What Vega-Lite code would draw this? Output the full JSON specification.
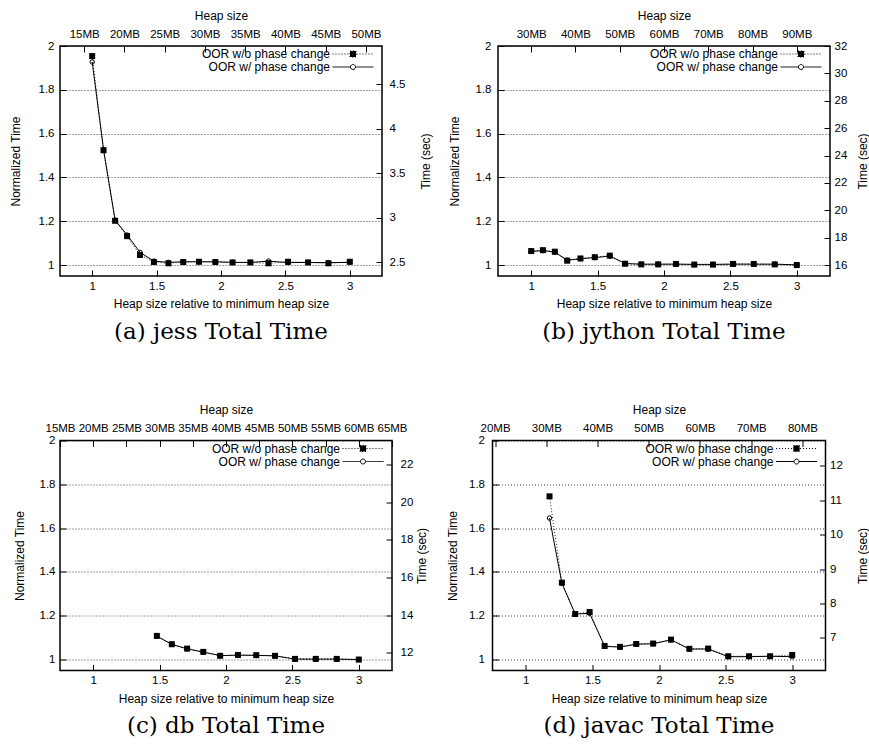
{
  "$schema": "https://vega.github.io/schema/vega-lite/v6.json",
  "padding": {"left": 8, "top": 8, "right": 0, "bottom": 0},
  "spacing": 57.5,
  "resolve": {"scale": {"shape": "independent", "fill": "independent", "strokeDash": "independent"}, "legend": {"shape": "independent", "fill": "independent", "strokeDash": "independent"}},
  "datasets": {
    "meta": [
      {"bench": "jess", "minHeap": 16, "baseTime": 2.466},
      {"bench": "jython", "minHeap": 30, "baseTime": 16},
      {"bench": "db", "minHeap": 20, "baseTime": 11.64},
      {"bench": "javac", "minHeap": 26, "baseTime": 6.37}
    ],
    "perf": [
      {"bench":"jess","series":"wo","rel":1,"norm":1.954},
      {"bench":"jess","series":"wo","rel":1.088,"norm":1.524},
      {"bench":"jess","series":"wo","rel":1.178,"norm":1.202},
      {"bench":"jess","series":"wo","rel":1.271,"norm":1.132},
      {"bench":"jess","series":"wo","rel":1.371,"norm":1.046},
      {"bench":"jess","series":"wo","rel":1.479,"norm":1.014},
      {"bench":"jess","series":"wo","rel":1.592,"norm":1.008},
      {"bench":"jess","series":"wo","rel":1.707,"norm":1.014},
      {"bench":"jess","series":"wo","rel":1.829,"norm":1.015},
      {"bench":"jess","series":"wo","rel":1.956,"norm":1.014},
      {"bench":"jess","series":"wo","rel":2.09,"norm":1.012},
      {"bench":"jess","series":"wo","rel":2.228,"norm":1.012},
      {"bench":"jess","series":"wo","rel":2.369,"norm":1.008},
      {"bench":"jess","series":"wo","rel":2.52,"norm":1.015},
      {"bench":"jess","series":"wo","rel":2.676,"norm":1.012},
      {"bench":"jess","series":"wo","rel":2.834,"norm":1.008},
      {"bench":"jess","series":"wo","rel":3,"norm":1.015},
      {"bench":"jess","series":"w","rel":1,"norm":1.927},
      {"bench":"jess","series":"w","rel":1.088,"norm":1.527},
      {"bench":"jess","series":"w","rel":1.178,"norm":1.205},
      {"bench":"jess","series":"w","rel":1.271,"norm":1.137},
      {"bench":"jess","series":"w","rel":1.371,"norm":1.058},
      {"bench":"jess","series":"w","rel":1.479,"norm":1.018},
      {"bench":"jess","series":"w","rel":1.592,"norm":1.012},
      {"bench":"jess","series":"w","rel":1.707,"norm":1.015},
      {"bench":"jess","series":"w","rel":1.829,"norm":1.015},
      {"bench":"jess","series":"w","rel":1.956,"norm":1.015},
      {"bench":"jess","series":"w","rel":2.09,"norm":1.012},
      {"bench":"jess","series":"w","rel":2.228,"norm":1.012},
      {"bench":"jess","series":"w","rel":2.369,"norm":1.018},
      {"bench":"jess","series":"w","rel":2.52,"norm":1.011},
      {"bench":"jess","series":"w","rel":2.676,"norm":1.012},
      {"bench":"jess","series":"w","rel":2.834,"norm":1.011},
      {"bench":"jess","series":"w","rel":3,"norm":1.012},
      {"bench":"jython","series":"wo","rel":1,"norm":1.064},
      {"bench":"jython","series":"wo","rel":1.088,"norm":1.068},
      {"bench":"jython","series":"wo","rel":1.178,"norm":1.061},
      {"bench":"jython","series":"wo","rel":1.271,"norm":1.02},
      {"bench":"jython","series":"wo","rel":1.371,"norm":1.03},
      {"bench":"jython","series":"wo","rel":1.479,"norm":1.036},
      {"bench":"jython","series":"wo","rel":1.592,"norm":1.043},
      {"bench":"jython","series":"wo","rel":1.707,"norm":1.006},
      {"bench":"jython","series":"wo","rel":1.829,"norm":1.003},
      {"bench":"jython","series":"wo","rel":1.956,"norm":1.003},
      {"bench":"jython","series":"wo","rel":2.09,"norm":1.005},
      {"bench":"jython","series":"wo","rel":2.228,"norm":1.002},
      {"bench":"jython","series":"wo","rel":2.369,"norm":1.002},
      {"bench":"jython","series":"wo","rel":2.52,"norm":1.005},
      {"bench":"jython","series":"wo","rel":2.676,"norm":1.005},
      {"bench":"jython","series":"wo","rel":2.834,"norm":1.003},
      {"bench":"jython","series":"wo","rel":3,"norm":1.0},
      {"bench":"jython","series":"w","rel":1,"norm":1.062},
      {"bench":"jython","series":"w","rel":1.088,"norm":1.066},
      {"bench":"jython","series":"w","rel":1.178,"norm":1.059},
      {"bench":"jython","series":"w","rel":1.271,"norm":1.022},
      {"bench":"jython","series":"w","rel":1.371,"norm":1.029},
      {"bench":"jython","series":"w","rel":1.479,"norm":1.034},
      {"bench":"jython","series":"w","rel":1.592,"norm":1.041},
      {"bench":"jython","series":"w","rel":1.707,"norm":1.007},
      {"bench":"jython","series":"w","rel":1.829,"norm":1.004},
      {"bench":"jython","series":"w","rel":1.956,"norm":1.004},
      {"bench":"jython","series":"w","rel":2.09,"norm":1.004},
      {"bench":"jython","series":"w","rel":2.228,"norm":1.003},
      {"bench":"jython","series":"w","rel":2.369,"norm":1.003},
      {"bench":"jython","series":"w","rel":2.52,"norm":1.004},
      {"bench":"jython","series":"w","rel":2.676,"norm":1.004},
      {"bench":"jython","series":"w","rel":2.834,"norm":1.004},
      {"bench":"jython","series":"w","rel":3,"norm":1.001},
      {"bench":"db","series":"wo","rel":1.479,"norm":1.108},
      {"bench":"db","series":"wo","rel":1.592,"norm":1.07},
      {"bench":"db","series":"wo","rel":1.707,"norm":1.05},
      {"bench":"db","series":"wo","rel":1.829,"norm":1.035},
      {"bench":"db","series":"wo","rel":1.956,"norm":1.017},
      {"bench":"db","series":"wo","rel":2.09,"norm":1.021},
      {"bench":"db","series":"wo","rel":2.228,"norm":1.02},
      {"bench":"db","series":"wo","rel":2.369,"norm":1.017},
      {"bench":"db","series":"wo","rel":2.52,"norm":1.003},
      {"bench":"db","series":"wo","rel":2.676,"norm":1.003},
      {"bench":"db","series":"wo","rel":2.834,"norm":1.003},
      {"bench":"db","series":"wo","rel":3,"norm":1.0},
      {"bench":"db","series":"w","rel":1.479,"norm":1.107},
      {"bench":"db","series":"w","rel":1.592,"norm":1.069},
      {"bench":"db","series":"w","rel":1.707,"norm":1.049},
      {"bench":"db","series":"w","rel":1.829,"norm":1.034},
      {"bench":"db","series":"w","rel":1.956,"norm":1.018},
      {"bench":"db","series":"w","rel":2.09,"norm":1.02},
      {"bench":"db","series":"w","rel":2.228,"norm":1.019},
      {"bench":"db","series":"w","rel":2.369,"norm":1.017},
      {"bench":"db","series":"w","rel":2.52,"norm":1.002},
      {"bench":"db","series":"w","rel":2.676,"norm":1.002},
      {"bench":"db","series":"w","rel":2.834,"norm":1.002},
      {"bench":"db","series":"w","rel":3,"norm":1.0},
      {"bench":"javac","series":"wo","rel":1.178,"norm":1.745},
      {"bench":"javac","series":"wo","rel":1.271,"norm":1.351},
      {"bench":"javac","series":"wo","rel":1.371,"norm":1.208},
      {"bench":"javac","series":"wo","rel":1.479,"norm":1.217},
      {"bench":"javac","series":"wo","rel":1.592,"norm":1.062},
      {"bench":"javac","series":"wo","rel":1.707,"norm":1.058},
      {"bench":"javac","series":"wo","rel":1.829,"norm":1.071},
      {"bench":"javac","series":"wo","rel":1.956,"norm":1.073},
      {"bench":"javac","series":"wo","rel":2.09,"norm":1.091},
      {"bench":"javac","series":"wo","rel":2.228,"norm":1.049},
      {"bench":"javac","series":"wo","rel":2.369,"norm":1.05},
      {"bench":"javac","series":"wo","rel":2.52,"norm":1.015},
      {"bench":"javac","series":"wo","rel":2.676,"norm":1.015},
      {"bench":"javac","series":"wo","rel":2.834,"norm":1.015},
      {"bench":"javac","series":"wo","rel":3,"norm":1.021},
      {"bench":"javac","series":"w","rel":1.178,"norm":1.646},
      {"bench":"javac","series":"w","rel":1.271,"norm":1.348},
      {"bench":"javac","series":"w","rel":1.371,"norm":1.208},
      {"bench":"javac","series":"w","rel":1.479,"norm":1.211},
      {"bench":"javac","series":"w","rel":1.592,"norm":1.06},
      {"bench":"javac","series":"w","rel":1.707,"norm":1.057},
      {"bench":"javac","series":"w","rel":1.829,"norm":1.07},
      {"bench":"javac","series":"w","rel":1.956,"norm":1.072},
      {"bench":"javac","series":"w","rel":2.09,"norm":1.09},
      {"bench":"javac","series":"w","rel":2.228,"norm":1.048},
      {"bench":"javac","series":"w","rel":2.369,"norm":1.048},
      {"bench":"javac","series":"w","rel":2.52,"norm":1.013},
      {"bench":"javac","series":"w","rel":2.676,"norm":1.013},
      {"bench":"javac","series":"w","rel":2.834,"norm":1.015},
      {"bench":"javac","series":"w","rel":3,"norm":1.013}
    ]
  },
  "vconcat": [
    {
      "spacing": 14,
      "resolve": {"scale": {"shape": "independent", "fill": "independent", "strokeDash": "independent"}, "legend": {"shape": "independent", "fill": "independent", "strokeDash": "independent"}},
      "hconcat": [
        {
          "width": 322, "height": 230,
          "title": {"text": "(a) jess Total Time"},
          "layer": [
            {
              "data": {"name": "perf"},
              "transform": [{"filter": "datum.bench == 'jess'"}],
              "encoding": {
                "x": {"field": "rel", "type": "quantitative", "scale": {"domain": [0.75, 3.25], "nice": false, "zero": false},
                      "axis": {"orient": "bottom", "title": "Heap size relative to minimum heap size", "values": [1, 1.5, 2, 2.5, 3], "labelExpr": "'' + datum.value", "grid": false}},
                "y": {"field": "norm", "type": "quantitative", "scale": {"domain": [0.95, 2], "nice": false, "zero": false},
                      "axis": {"orient": "left", "title": "Normalized Time", "values": [1, 1.2, 1.4, 1.6, 1.8, 2], "labelExpr": "'' + datum.value", "grid": true, "labelPadding": 12, "titlePadding": 16}}
              },
              "layer": [
                {"transform": [{"filter": "datum.series == 'wo'"}], "mark": {"type": "line", "color": "#222", "strokeWidth": 1, "strokeDash": [1, 2]}},
                {"transform": [{"filter": "datum.series == 'w'"}], "mark": {"type": "line", "color": "black", "strokeWidth": 1}},
                {"transform": [{"filter": "datum.series == 'wo'"}], "mark": {"type": "square", "color": "black", "filled": true, "size": 36, "opacity": 1}},
                {"transform": [{"filter": "datum.series == 'w'"}], "mark": {"type": "point", "shape": "circle", "color": "black", "filled": false, "size": 20, "strokeWidth": 1, "opacity": 1}},
                {"mark": {"type": "point", "opacity": 0, "color": "black", "strokeWidth": 1},
                 "encoding": {
                   "shape": {"field": "series", "type": "nominal", "scale": {"domain": ["wo", "w"], "range": ["M-8.2,0H8.2M-1.2,-1.2H1.2V1.2H-1.2Z", "M-8.2,0H-1M1,0H8.2M-1,0A1,1 0 1,0 1,0A1,1 0 1,0 -1,0"]},
                             "legend": {"title": null, "orient": "none", "legendX": 287, "legendY": 2, "labelAlign": "right", "labelOffset": -29, "symbolSize": 25, "symbolOpacity": 1, "symbolStrokeWidth": 1, "rowPadding": 1, "padding": 0, "labelFontSize": 12, "labelExpr": "datum.value == 'wo' ? 'OOR w/o phase change' : 'OOR w/ phase change'"}},
                   "fill": {"field": "series", "type": "nominal", "scale": {"domain": ["wo", "w"], "range": ["black", "white"]},
                             "legend": {"title": null, "orient": "none", "legendX": 287, "legendY": 2, "labelAlign": "right", "labelOffset": -29, "symbolSize": 25, "symbolOpacity": 1, "symbolStrokeWidth": 1, "rowPadding": 1, "padding": 0, "labelFontSize": 12, "labelExpr": "datum.value == 'wo' ? 'OOR w/o phase change' : 'OOR w/ phase change'"}},
                   "strokeDash": {"field": "series", "type": "nominal", "scale": {"domain": ["wo", "w"], "range": [[1, 2], [1, 0]]},
                             "legend": {"title": null, "orient": "none", "legendX": 287, "legendY": 2, "labelAlign": "right", "labelOffset": -29, "symbolSize": 25, "symbolOpacity": 1, "symbolStrokeWidth": 1, "rowPadding": 1, "padding": 0, "labelFontSize": 12, "labelExpr": "datum.value == 'wo' ? 'OOR w/o phase change' : 'OOR w/ phase change'"}}
                 }}
              ]
            },
            {
              "data": {"name": "meta"},
              "transform": [{"filter": "datum.bench == 'jess'"}],
              "mark": {"type": "point", "opacity": 0},
              "encoding": {
                "x": {"field": "minHeap", "type": "quantitative", "scale": {"domain": [12, 52], "nice": false, "zero": false},
                      "axis": {"orient": "top", "title": "Heap size", "values": [15, 20, 25, 30, 35, 40, 45, 50], "labelExpr": "datum.value + 'MB'", "grid": false}},
                "y": {"field": "baseTime", "type": "quantitative", "scale": {"domain": [2.3427, 4.932], "nice": false, "zero": false},
                      "axis": {"orient": "right", "title": "Time (sec)", "values": [2.5, 3, 3.5, 4, 4.5], "labelExpr": "'' + datum.value", "grid": false, "labelPadding": 13, "titlePadding": 16}}
              }
            }
          ],
          "resolve": {"scale": {"x": "independent", "y": "independent"}}
        },
        {
          "width": 332, "height": 230,
          "title": {"text": "(b) jython Total Time"},
          "layer": [
            {
              "data": {"name": "perf"},
              "transform": [{"filter": "datum.bench == 'jython'"}],
              "encoding": {
                "x": {"field": "rel", "type": "quantitative", "scale": {"domain": [0.75, 3.25], "nice": false, "zero": false},
                      "axis": {"orient": "bottom", "title": "Heap size relative to minimum heap size", "values": [1, 1.5, 2, 2.5, 3], "labelExpr": "'' + datum.value", "grid": false}},
                "y": {"field": "norm", "type": "quantitative", "scale": {"domain": [0.95, 2], "nice": false, "zero": false},
                      "axis": {"orient": "left", "title": "Normalized Time", "values": [1, 1.2, 1.4, 1.6, 1.8, 2], "labelExpr": "'' + datum.value", "grid": true, "labelPadding": 13, "titlePadding": 13.5}}
              },
              "layer": [
                {"transform": [{"filter": "datum.series == 'wo'"}], "mark": {"type": "line", "color": "#222", "strokeWidth": 1, "strokeDash": [1, 2]}},
                {"transform": [{"filter": "datum.series == 'w'"}], "mark": {"type": "line", "color": "black", "strokeWidth": 1}},
                {"transform": [{"filter": "datum.series == 'wo'"}], "mark": {"type": "square", "color": "black", "filled": true, "size": 36, "opacity": 1}},
                {"transform": [{"filter": "datum.series == 'w'"}], "mark": {"type": "point", "shape": "circle", "color": "black", "filled": false, "size": 20, "strokeWidth": 1, "opacity": 1}},
                {"mark": {"type": "point", "opacity": 0, "color": "black", "strokeWidth": 1},
                 "encoding": {
                   "shape": {"field": "series", "type": "nominal", "scale": {"domain": ["wo", "w"], "range": ["M-8.2,0H8.2M-1.2,-1.2H1.2V1.2H-1.2Z", "M-8.2,0H-1M1,0H8.2M-1,0A1,1 0 1,0 1,0A1,1 0 1,0 -1,0"]},
                             "legend": {"title": null, "orient": "none", "legendX": 297, "legendY": 2, "labelAlign": "right", "labelOffset": -29, "symbolSize": 25, "symbolOpacity": 1, "symbolStrokeWidth": 1, "rowPadding": 1, "padding": 0, "labelFontSize": 12, "labelExpr": "datum.value == 'wo' ? 'OOR w/o phase change' : 'OOR w/ phase change'"}},
                   "fill": {"field": "series", "type": "nominal", "scale": {"domain": ["wo", "w"], "range": ["black", "white"]},
                             "legend": {"title": null, "orient": "none", "legendX": 297, "legendY": 2, "labelAlign": "right", "labelOffset": -29, "symbolSize": 25, "symbolOpacity": 1, "symbolStrokeWidth": 1, "rowPadding": 1, "padding": 0, "labelFontSize": 12, "labelExpr": "datum.value == 'wo' ? 'OOR w/o phase change' : 'OOR w/ phase change'"}},
                   "strokeDash": {"field": "series", "type": "nominal", "scale": {"domain": ["wo", "w"], "range": [[1, 2], [1, 0]]},
                             "legend": {"title": null, "orient": "none", "legendX": 297, "legendY": 2, "labelAlign": "right", "labelOffset": -29, "symbolSize": 25, "symbolOpacity": 1, "symbolStrokeWidth": 1, "rowPadding": 1, "padding": 0, "labelFontSize": 12, "labelExpr": "datum.value == 'wo' ? 'OOR w/o phase change' : 'OOR w/ phase change'"}}
                 }}
              ]
            },
            {
              "data": {"name": "meta"},
              "transform": [{"filter": "datum.bench == 'jython'"}],
              "mark": {"type": "point", "opacity": 0},
              "encoding": {
                "x": {"field": "minHeap", "type": "quantitative", "scale": {"domain": [22.5, 97.5], "nice": false, "zero": false},
                      "axis": {"orient": "top", "title": "Heap size", "values": [30, 40, 50, 60, 70, 80, 90], "labelExpr": "datum.value + 'MB'", "grid": false}},
                "y": {"field": "baseTime", "type": "quantitative", "scale": {"domain": [15.2, 32], "nice": false, "zero": false},
                      "axis": {"orient": "right", "title": "Time (sec)", "values": [16, 18, 20, 22, 24, 26, 28, 30, 32], "labelExpr": "'' + datum.value", "grid": false, "labelPadding": 10, "titlePadding": 10.5}}
              }
            }
          ],
          "resolve": {"scale": {"x": "independent", "y": "independent"}}
        }
      ]
    },
    {
      "spacing": 16.5,
      "resolve": {"scale": {"shape": "independent", "fill": "independent", "strokeDash": "independent"}, "legend": {"shape": "independent", "fill": "independent", "strokeDash": "independent"}},
      "hconcat": [
        {
          "width": 332, "height": 230,
          "title": {"text": "(c) db Total Time"},
          "layer": [
            {
              "data": {"name": "perf"},
              "transform": [{"filter": "datum.bench == 'db'"}],
              "encoding": {
                "x": {"field": "rel", "type": "quantitative", "scale": {"domain": [0.75, 3.25], "nice": false, "zero": false},
                      "axis": {"orient": "bottom", "title": "Heap size relative to minimum heap size", "values": [1, 1.5, 2, 2.5, 3], "labelExpr": "'' + datum.value", "grid": false}},
                "y": {"field": "norm", "type": "quantitative", "scale": {"domain": [0.95, 2], "nice": false, "zero": false},
                      "axis": {"orient": "left", "title": "Normalized Time", "values": [1, 1.2, 1.4, 1.6, 1.8, 2], "labelExpr": "'' + datum.value", "grid": true, "labelPadding": 11, "titlePadding": 13}}
              },
              "layer": [
                {"transform": [{"filter": "datum.series == 'wo'"}], "mark": {"type": "line", "color": "#222", "strokeWidth": 1, "strokeDash": [1, 2]}},
                {"transform": [{"filter": "datum.series == 'w'"}], "mark": {"type": "line", "color": "black", "strokeWidth": 1}},
                {"transform": [{"filter": "datum.series == 'wo'"}], "mark": {"type": "square", "color": "black", "filled": true, "size": 36, "opacity": 1}},
                {"transform": [{"filter": "datum.series == 'w'"}], "mark": {"type": "point", "shape": "circle", "color": "black", "filled": false, "size": 20, "strokeWidth": 1, "opacity": 1}},
                {"mark": {"type": "point", "opacity": 0, "color": "black", "strokeWidth": 1},
                 "encoding": {
                   "shape": {"field": "series", "type": "nominal", "scale": {"domain": ["wo", "w"], "range": ["M-8.2,0H8.2M-1.2,-1.2H1.2V1.2H-1.2Z", "M-8.2,0H-1M1,0H8.2M-1,0A1,1 0 1,0 1,0A1,1 0 1,0 -1,0"]},
                             "legend": {"title": null, "orient": "none", "legendX": 297, "legendY": 2, "labelAlign": "right", "labelOffset": -29, "symbolSize": 25, "symbolOpacity": 1, "symbolStrokeWidth": 1, "rowPadding": 1, "padding": 0, "labelFontSize": 12, "labelExpr": "datum.value == 'wo' ? 'OOR w/o phase change' : 'OOR w/ phase change'"}},
                   "fill": {"field": "series", "type": "nominal", "scale": {"domain": ["wo", "w"], "range": ["black", "white"]},
                             "legend": {"title": null, "orient": "none", "legendX": 297, "legendY": 2, "labelAlign": "right", "labelOffset": -29, "symbolSize": 25, "symbolOpacity": 1, "symbolStrokeWidth": 1, "rowPadding": 1, "padding": 0, "labelFontSize": 12, "labelExpr": "datum.value == 'wo' ? 'OOR w/o phase change' : 'OOR w/ phase change'"}},
                   "strokeDash": {"field": "series", "type": "nominal", "scale": {"domain": ["wo", "w"], "range": [[1, 2], [1, 0]]},
                             "legend": {"title": null, "orient": "none", "legendX": 297, "legendY": 2, "labelAlign": "right", "labelOffset": -29, "symbolSize": 25, "symbolOpacity": 1, "symbolStrokeWidth": 1, "rowPadding": 1, "padding": 0, "labelFontSize": 12, "labelExpr": "datum.value == 'wo' ? 'OOR w/o phase change' : 'OOR w/ phase change'"}}
                 }}
              ]
            },
            {
              "data": {"name": "meta"},
              "transform": [{"filter": "datum.bench == 'db'"}],
              "mark": {"type": "point", "opacity": 0},
              "encoding": {
                "x": {"field": "minHeap", "type": "quantitative", "scale": {"domain": [15, 65], "nice": false, "zero": false},
                      "axis": {"orient": "top", "title": "Heap size", "values": [15, 20, 25, 30, 35, 40, 45, 50, 55, 60, 65], "labelExpr": "datum.value + 'MB'", "grid": false}},
                "y": {"field": "baseTime", "type": "quantitative", "scale": {"domain": [11.058, 23.28], "nice": false, "zero": false},
                      "axis": {"orient": "right", "title": "Time (sec)", "values": [12, 14, 16, 18, 20, 22], "labelExpr": "'' + datum.value", "grid": false, "labelPadding": 14, "titlePadding": 4}}
              }
            }
          ],
          "resolve": {"scale": {"x": "independent", "y": "independent"}}
        },
        {
          "width": 333, "height": 230,
          "title": {"text": "(d) javac Total Time"},
          "layer": [
            {
              "data": {"name": "perf"},
              "transform": [{"filter": "datum.bench == 'javac'"}],
              "encoding": {
                "x": {"field": "rel", "type": "quantitative", "scale": {"domain": [0.75, 3.25], "nice": false, "zero": false},
                      "axis": {"orient": "bottom", "title": "Heap size relative to minimum heap size", "values": [1, 1.5, 2, 2.5, 3], "labelExpr": "'' + datum.value", "grid": false}},
                "y": {"field": "norm", "type": "quantitative", "scale": {"domain": [0.95, 2], "nice": false, "zero": false},
                      "axis": {"orient": "left", "title": "Normalized Time", "values": [1, 1.2, 1.4, 1.6, 1.8, 2], "labelExpr": "'' + datum.value", "grid": true, "labelPadding": 14, "titlePadding": 9}}
              },
              "layer": [
                {"transform": [{"filter": "datum.series == 'wo'"}], "mark": {"type": "line", "color": "#222", "strokeWidth": 1, "strokeDash": [1, 2]}},
                {"transform": [{"filter": "datum.series == 'w'"}], "mark": {"type": "line", "color": "black", "strokeWidth": 1}},
                {"transform": [{"filter": "datum.series == 'wo'"}], "mark": {"type": "square", "color": "black", "filled": true, "size": 36, "opacity": 1}},
                {"transform": [{"filter": "datum.series == 'w'"}], "mark": {"type": "point", "shape": "circle", "color": "black", "filled": false, "size": 20, "strokeWidth": 1, "opacity": 1}},
                {"mark": {"type": "point", "opacity": 0, "color": "black", "strokeWidth": 1},
                 "encoding": {
                   "shape": {"field": "series", "type": "nominal", "scale": {"domain": ["wo", "w"], "range": ["M-8.2,0H8.2M-1.2,-1.2H1.2V1.2H-1.2Z", "M-8.2,0H-1M1,0H8.2M-1,0A1,1 0 1,0 1,0A1,1 0 1,0 -1,0"]},
                             "legend": {"title": null, "orient": "none", "legendX": 298, "legendY": 2, "labelAlign": "right", "labelOffset": -29, "symbolSize": 25, "symbolOpacity": 1, "symbolStrokeWidth": 1, "rowPadding": 1, "padding": 0, "labelFontSize": 12, "labelExpr": "datum.value == 'wo' ? 'OOR w/o phase change' : 'OOR w/ phase change'"}},
                   "fill": {"field": "series", "type": "nominal", "scale": {"domain": ["wo", "w"], "range": ["black", "white"]},
                             "legend": {"title": null, "orient": "none", "legendX": 298, "legendY": 2, "labelAlign": "right", "labelOffset": -29, "symbolSize": 25, "symbolOpacity": 1, "symbolStrokeWidth": 1, "rowPadding": 1, "padding": 0, "labelFontSize": 12, "labelExpr": "datum.value == 'wo' ? 'OOR w/o phase change' : 'OOR w/ phase change'"}},
                   "strokeDash": {"field": "series", "type": "nominal", "scale": {"domain": ["wo", "w"], "range": [[1, 2], [1, 0]]},
                             "legend": {"title": null, "orient": "none", "legendX": 298, "legendY": 2, "labelAlign": "right", "labelOffset": -29, "symbolSize": 25, "symbolOpacity": 1, "symbolStrokeWidth": 1, "rowPadding": 1, "padding": 0, "labelFontSize": 12, "labelExpr": "datum.value == 'wo' ? 'OOR w/o phase change' : 'OOR w/ phase change'"}}
                 }}
              ]
            },
            {
              "data": {"name": "meta"},
              "transform": [{"filter": "datum.bench == 'javac'"}],
              "mark": {"type": "point", "opacity": 0},
              "encoding": {
                "x": {"field": "minHeap", "type": "quantitative", "scale": {"domain": [19.5, 84.5], "nice": false, "zero": false},
                      "axis": {"orient": "top", "title": "Heap size", "values": [20, 30, 40, 50, 60, 70, 80], "labelExpr": "datum.value + 'MB'", "grid": false}},
                "y": {"field": "baseTime", "type": "quantitative", "scale": {"domain": [6.0515, 12.74], "nice": false, "zero": false},
                      "axis": {"orient": "right", "title": "Time (sec)", "values": [7, 8, 9, 10, 11, 12], "labelExpr": "'' + datum.value", "grid": false, "labelPadding": 10, "titlePadding": 15}}
              }
            }
          ],
          "resolve": {"scale": {"x": "independent", "y": "independent"}}
        }
      ]
    }
  ],
  "config": {
    "font": "Liberation Sans",
    "view": {"stroke": "black", "strokeWidth": 1.5},
    "axis": {"domain": false, "labelFont": "Liberation Sans", "labelFontSize": 11.5, "labelColor": "black", "titleFont": "Liberation Sans", "titleFontSize": 12, "titleFontWeight": "normal", "titleColor": "black", "tickColor": "black", "tickSize": -6, "tickWidth": 1, "labelFlush": false, "labelOverlap": false, "gridColor": "#111", "gridDash": [1, 2], "gridWidth": 0.8, "gridOpacity": 1},
    "axisRight": {"titleAngle": -90, "titleBaseline": "top"},
    "axisTop": {"labelPadding": 13, "titlePadding": 6},
    "axisBottom": {"labelPadding": 10, "titlePadding": 7},
    "legend": {"labelFont": "Liberation Sans", "labelColor": "black"},
    "title": {"font": "DejaVu Serif", "fontSize": 23, "fontWeight": "normal", "color": "black", "offset": 11, "orient": "bottom", "frame": "group", "anchor": "middle"}
  }
}
